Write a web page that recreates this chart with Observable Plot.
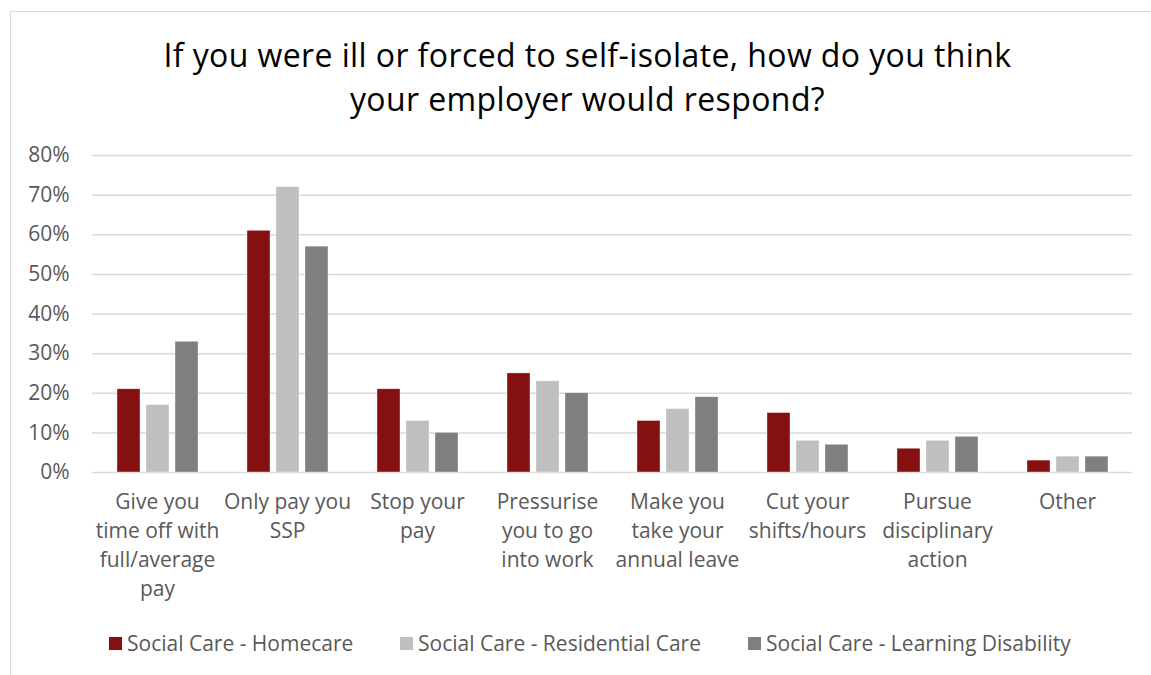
<!DOCTYPE html>
<html>
<head>
<meta charset="utf-8">
<script src="https://cdn.jsdelivr.net/npm/d3@7"></script>
<script src="https://cdn.jsdelivr.net/npm/@observablehq/plot@0.6"></script>
<style>
  html, body { margin: 0; padding: 0; background: #fff; }
  body { width: 1151px; height: 675px; position: relative; overflow: hidden; font-family: "Open Sans", Lato, sans-serif; }
  #frame { position: absolute; left: 10px; top: 11px; width: 1200px; height: 700px; border-left: 1.5px solid #d9d9d9; border-top: 1.5px solid #d9d9d9; }
  .title { position: absolute; left: 0; width: 1175px; text-align: center; font-size: 32px; letter-spacing: 0.4px; line-height: 44px; height: 44px; color: #000; white-space: nowrap; }
  #chart { position: absolute; left: 0; top: 130px; }
  #legend { position: absolute; top: 630px; left: 0; width: 1151px; height: 26px; font-size: 21px; color: #595959; }
  .item { position: absolute; top: 0; display: flex; align-items: center; height: 26px; }
  .sw { width: 13px; height: 13px; margin-right: 5px; }
</style>
</head>
<body>
<div id="frame"></div>
<div class="title" style="top:33px">If you were ill or forced to self-isolate, how do you think</div>
<div class="title" style="top:77px">your employer would respond?</div>
<div id="chart"></div>
<div id="legend"></div>
<script>
const categories = [
  "Give you time off with full/average pay",
  "Only pay you SSP",
  "Stop your pay",
  "Pressurise you to go into work",
  "Make you take your annual leave",
  "Cut your shifts/hours",
  "Pursue disciplinary action",
  "Other"
];
const categoryLabels = [
  "Give you\ntime off with\nfull/average\npay",
  "Only pay you\nSSP",
  "Stop your\npay",
  "Pressurise\nyou to go\ninto work",
  "Make you\ntake your\nannual leave",
  "Cut your\nshifts/hours",
  "Pursue\ndisciplinary\naction",
  "Other"
];
const series = ["Social Care - Homecare", "Social Care - Residential Care", "Social Care - Learning Disability"];
const colors = ["#851010", "#bfbfbf", "#7f7f7f"];
const homecare = [21, 61, 21, 25, 13, 15, 6, 3];
const residential = [17, 72, 13, 23, 16, 8, 8, 4];
const learningDisability = [33, 57, 10, 20, 19, 7, 9, 4];
const yTicks = [0, 10, 20, 30, 40, 50, 60, 70, 80];

const seriesValues = [homecare, residential, learningDisability];
const data = [];
categories.forEach((c, i) => {
  series.forEach((s, j) => data.push({category: c, series: s, value: seriesValues[j][i]}));
});
const labelOf = new Map(categories.map((c, i) => [c, categoryLabels[i]]));

const plot = Plot.plot({
  width: 1151,
  height: 485,
  marginLeft: 91,
  marginRight: 18,
  marginTop: 25,
  marginBottom: 143,
  style: {fontFamily: "'Open Sans', Lato, sans-serif", fontSize: "21px", color: "#595959", background: "transparent"},
  fx: {domain: categories, padding: 0, label: null},
  x: {domain: series, paddingInner: 0.224, paddingOuter: 0.853, axis: null},
  y: {domain: [0, 80], label: null},
  color: {domain: series, range: colors},
  marks: [
    Plot.ruleY(yTicks, {stroke: "#d9d9d9", strokeWidth: 1.5}),
    Plot.barY(data, {fx: "category", x: "series", y: "value", fill: "series", stroke: "#ffffff", strokeWidth: 0.6, strokeOpacity: 0.6}),
    Plot.axisY({ticks: yTicks, tickSize: 0, tickPadding: 23, tickFormat: d => d + "%", fontSize: 21, fill: "#595959", label: null}),
    Plot.axisFx({anchor: "bottom", tickSize: 0, tickPadding: 16, tickFormat: d => labelOf.get(d), lineHeight: 1.38, fontSize: 21, fill: "#595959", label: null})
  ]
});
document.getElementById("chart").appendChild(plot);

const legendPos = [109, 400, 748];
const legend = document.getElementById("legend");
series.forEach((s, i) => {
  const it = document.createElement("div");
  it.className = "item";
  it.style.left = legendPos[i] + "px";
  const sw = document.createElement("div");
  sw.className = "sw";
  sw.style.background = colors[i];
  const tx = document.createElement("span");
  tx.textContent = s;
  it.appendChild(sw);
  it.appendChild(tx);
  legend.appendChild(it);
});
</script>
</body>
</html>
